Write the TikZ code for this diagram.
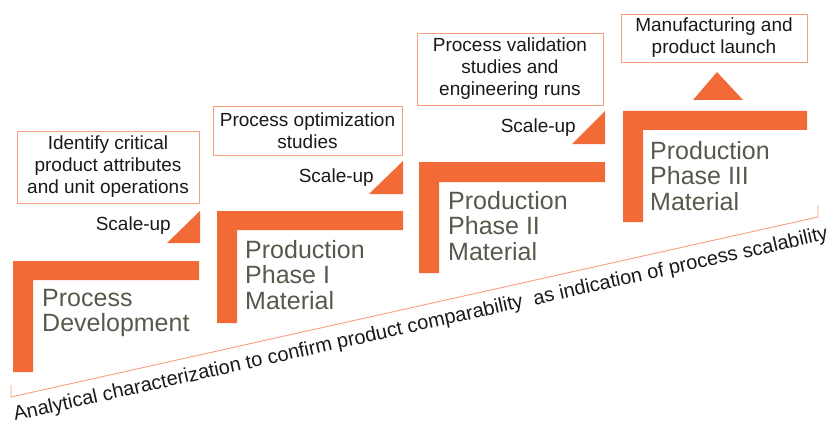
\documentclass[tikz,border=0pt]{standalone}
\usepackage{fontspec}
\setmainfont{Liberation Sans}
\definecolor{stepor}{RGB}{242,106,54}
\definecolor{boxor}{RGB}{246,160,128}
\definecolor{labgray}{RGB}{90,88,76}
\begin{document}
\begin{tikzpicture}[x=1pt,y=-1pt,
  stepbar/.style={fill=stepor,draw=none},
  tri/.style={fill=stepor,draw=none},
  infobox/.style={draw=boxor,line width=0.9pt,align=center,inner sep=0pt,
     font=\fontsize{19}{22}\selectfont,text=black!90},
  steplabel/.style={anchor=north west,align=left,inner sep=0pt,
     font=\fontsize{25}{25.5}\selectfont,text=labgray},
  scalelab/.style={anchor=base east,inner sep=0pt,font=\fontsize{19}{22}\selectfont,text=black!90},
  bracket/.style={draw=boxor,line width=0.9pt}]
\useasboundingbox (0,0) rectangle (832,425);
% L-shaped steps
\fill[stepbar] (13,261) -- (199,261) -- (199,280) -- (33,280) -- (33,372) -- (13,372) -- cycle;
\fill[stepbar] (217,211) -- (403,211) -- (403,230) -- (237,230) -- (237,323) -- (217,323) -- cycle;
\fill[stepbar] (419,162) -- (605,162) -- (605,182) -- (439,182) -- (439,273) -- (419,273) -- cycle;
\fill[stepbar] (623,111) -- (807,111) -- (807,130) -- (643,130) -- (643,222) -- (623,222) -- cycle;
% step labels
\node[steplabel] (s1) at (42,289) {Process\\Development};
\node[steplabel] (s2) at (245,240) {Production\\Phase I\\Material};
\node[steplabel] (s3) at (448,191) {Production\\Phase II\\Material};
\node[steplabel] (s4) at (650,141) {Production\\Phase III\\Material};
% triangles
\fill[tri] (167,243) -- (200,211) -- (200,243) -- cycle;
\fill[tri] (369,194) -- (403,161) -- (403,194) -- cycle;
\fill[tri] (572,144) -- (605,111) -- (605,144) -- cycle;
\fill[tri] (693,100) -- (717,72) -- (743,100) -- cycle;
% scale-up labels
\node[scalelab] (u1) at (171,230) {Scale-up};
\node[scalelab] (u2) at (374,182) {Scale-up};
\node[scalelab] (u3) at (576,132) {Scale-up};
% info boxes
\node[infobox,minimum width=182pt,minimum height=72pt] (b1) at (108,167) {Identify critical\\product attributes\\and unit operations};
\node[infobox,minimum width=189pt,minimum height=49pt] (b2) at (307.5,130.5) {Process optimization\\studies};
\node[infobox,minimum width=186pt,minimum height=72pt] (b3) at (510,69) {Process validation\\studies and\\engineering runs};
\node[infobox,minimum width=186pt,minimum height=48pt] (b4) at (714,38) {Manufacturing and\\product launch};
% bracket
\coordinate (bl0) at (11,385);
\coordinate (bl1) at (11,397);
\coordinate (br1) at (818,217);
\coordinate (br0) at (818,205);
\draw[bracket] (bl0) -- (bl1) -- (br1) -- (br0);
\node[anchor=base west,inner sep=0pt,rotate=12.57,font=\fontsize{20}{22}\selectfont,text=black!90] (an) at (15,421)
 {Analytical characterization to confirm product comparability\ \ as indication of process scalability};
\end{tikzpicture}
\end{document}
